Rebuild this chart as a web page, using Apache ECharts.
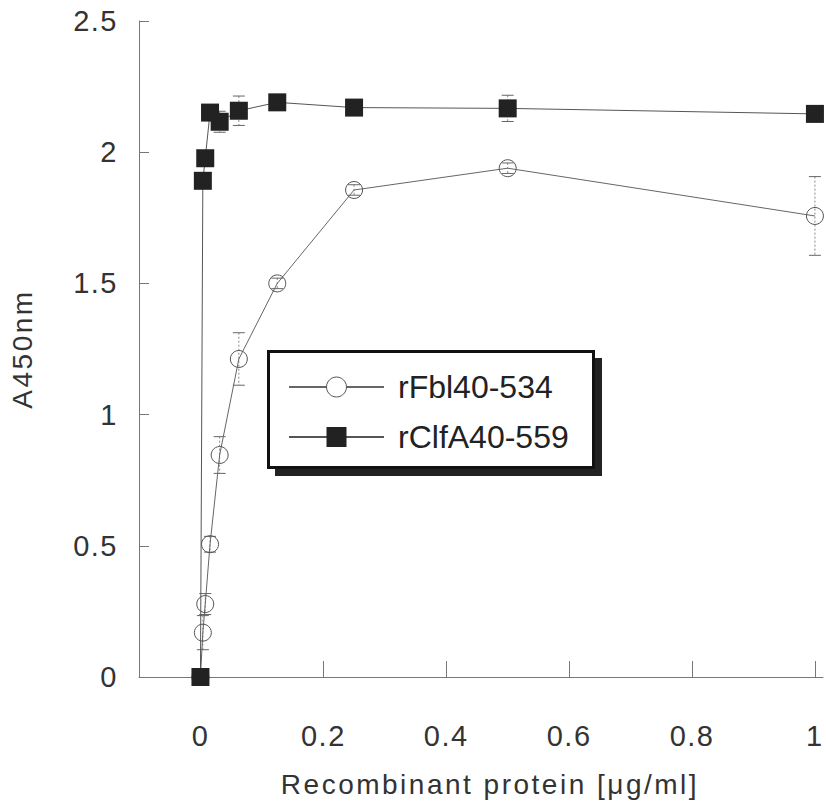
<!DOCTYPE html>
<html>
<head>
<meta charset="utf-8">
<script src="https://cdn.jsdelivr.net/npm/echarts@6/dist/echarts.min.js"></script>
<style>
  html, body { margin: 0; padding: 0; background: #ffffff; }
  #chart { width: 826px; height: 806px; }
</style>
</head>
<body>
<div id="chart"></div>
<script>
// ---- data ----
const concentrations = [0, 0.0039, 0.0078, 0.0156, 0.03125, 0.0625, 0.125, 0.25, 0.5, 1];
const fblValues   = [0.0, 0.169, 0.278, 0.506, 0.846, 1.212, 1.50, 1.856, 1.939, 1.757];
const fblErrors   = [0.0, 0.065, 0.04, 0.03, 0.07, 0.10, 0.02, 0.02, 0.02, 0.15];
const clfaValues  = [0.0, 1.891, 1.977, 2.151, 2.116, 2.158, 2.19, 2.17, 2.167, 2.146];
const clfaErrors  = [0.0, 0.02, 0.02, 0.03, 0.04, 0.056, 0.02, 0.02, 0.05, 0.03];
const xTicks = [0, 0.2, 0.4, 0.6, 0.8, 1];
const seriesNames = ['rFbl40-534', 'rClfA40-559'];
const xTitle = 'Recombinant protein [\u03bcg/ml]';
const yTitle = 'A450nm';

const FONT = "'Liberation Sans', Arial, Helvetica, sans-serif";
const TEXT = '#333';
const AXIS = '#777';

function errItem(params, api) {
  const x = api.value(0), y = api.value(1), e = api.value(2);
  if (!e) return null;
  const t = api.coord([x, y + e]);
  const b = api.coord([x, y - e]);
  const hw = 6;
  const st = { stroke: '#666', lineWidth: 1 };
  return {
    type: 'group',
    children: [
      { type: 'line', shape: { x1: t[0], y1: t[1], x2: b[0], y2: b[1] }, style: { stroke: '#888', lineWidth: 1, lineDash: [2, 2] } },
      { type: 'line', shape: { x1: t[0] - hw, y1: t[1], x2: t[0] + hw, y2: t[1] }, style: st },
      { type: 'line', shape: { x1: b[0] - hw, y1: b[1], x2: b[0] + hw, y2: b[1] }, style: st }
    ]
  };
}

const chart = echarts.init(document.getElementById('chart'), null, { renderer: 'svg' });
chart.setOption({
  animation: false,
  backgroundColor: '#ffffff',
  grid: { left: 139, right: 0, top: 21, bottom: 129, containLabel: false },
  xAxis: {
    type: 'value',
    min: -0.1, max: 1.013,
    name: xTitle,
    nameLocation: 'middle',
    nameGap: 93,
    nameTextStyle: { fontFamily: FONT, fontSize: 28, color: TEXT, padding: [0, 0, 0, 18] },
    axisLine: { onZero: false, lineStyle: { color: AXIS, width: 1 } },
    axisTick: { inside: true, length: 16, customValues: xTicks.slice(1), lineStyle: { color: AXIS } },
    axisLabel: { customValues: xTicks, margin: 44, fontFamily: FONT, fontSize: 29, color: TEXT },
    splitLine: { show: false }
  },
  yAxis: {
    type: 'value',
    min: 0, max: 2.5, interval: 0.5,
    name: yTitle,
    nameLocation: 'middle',
    nameGap: 103,
    nameTextStyle: { fontFamily: FONT, fontSize: 28, color: TEXT },
    axisLine: { show: true, onZero: false, lineStyle: { color: AXIS, width: 1 } },
    axisTick: { show: true, inside: true, length: 10, lineStyle: { color: AXIS } },
    axisLabel: { margin: 21, fontFamily: FONT, fontSize: 29, color: TEXT },
    splitLine: { show: false }
  },
  graphic: [
    { type: 'rect', z: 1, shape: { x: 275, y: 358, width: 327, height: 118 }, style: { fill: '#222' } },
    { type: 'rect', z: 2, shape: { x: 268.5, y: 351.5, width: 325, height: 116 }, style: { fill: '#fff', stroke: '#111', lineWidth: 3 } }
  ],
  legend: {
    z: 10,
    orient: 'vertical',
    left: 288, top: 371,
    padding: 0,
    itemWidth: 95, itemHeight: 25, itemGap: 18,
    textStyle: { fontFamily: FONT, fontSize: 32, color: '#222', padding: [0, 0, 0, 9] },
    data: [
      { name: seriesNames[0], itemStyle: { color: '#fff', borderColor: '#555', borderWidth: 1 } },
      { name: seriesNames[1] }
    ]
  },
  series: [
    {
      type: 'custom', name: 'err1', silent: true, clip: false,
      renderItem: errItem,
      encode: { x: 0, y: 1 },
      data: concentrations.map((c, i) => [c, fblValues[i], fblErrors[i]]),
      z: 1
    },
    {
      type: 'custom', name: 'err2', silent: true, clip: false,
      renderItem: errItem,
      encode: { x: 0, y: 1 },
      data: concentrations.map((c, i) => [c, clfaValues[i], clfaErrors[i]]),
      z: 1
    },
    {
      type: 'line', name: seriesNames[0], clip: false,
      data: concentrations.map((c, i) => [c, fblValues[i]]),
      symbol: 'circle', symbolSize: 17,
      lineStyle: { color: '#666', width: 1 },
      itemStyle: { color: 'rgba(255,255,255,0)', borderColor: '#555', borderWidth: 1 },
      z: 3
    },
    {
      type: 'line', name: seriesNames[1], clip: false,
      data: concentrations.map((c, i) => [c, clfaValues[i]]),
      symbol: 'rect', symbolSize: 18,
      lineStyle: { color: '#555', width: 1 },
      itemStyle: { color: '#222', borderColor: '#222', borderWidth: 0 },
      z: 4
    }
  ]
});

function applySpacing() {
  document.querySelectorAll('#chart svg text').forEach(function (t) {
    const s = t.textContent;
    if (seriesNames.indexOf(s) >= 0) return;
    t.style.letterSpacing = s.length > 4 ? '2.5px' : '1.5px';
  });
}
chart.on('finished', applySpacing);
setTimeout(applySpacing, 50);
</script>
</body>
</html>
